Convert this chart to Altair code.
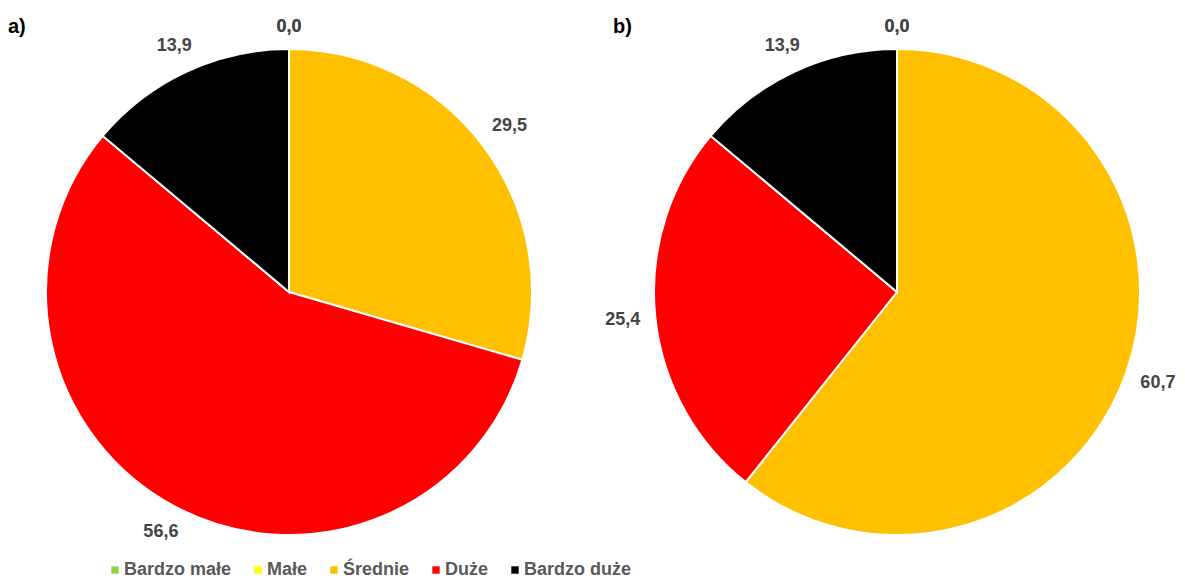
import altair as alt
import pandas as pd

# Size classes and their colours
categories = ["Bardzo małe", "Małe", "Średnie", "Duże", "Bardzo duże"]
colors = ["#92D050", "#FFFF00", "#FFC000", "#FF0000", "#000000"]

# Shares (%) for the two panels
values_a = [0.0, 0.0, 29.5, 56.6, 13.9]
values_b = [0.0, 0.0, 60.7, 25.4, 13.9]
panels = ["a)", "b)"]

rows = []
for panel, vals in zip(panels, [values_a, values_b]):
    for i, (cat, v) in enumerate(zip(categories, vals)):
        rows.append({
            "panel": panel,
            "kat": cat,
            "idx": i,
            "v": v,
            "label": f"{v:.1f}".replace(".", ","),
        })
df = pd.DataFrame(rows)

FONT = "Liberation Sans"
PIE_R = 243
CY = 292
theta_scale = alt.Scale(domain=[0, 100])


def pie(panel, cx):
    base = alt.Chart(df).transform_filter(alt.datum.panel == panel)
    arcs = base.mark_arc(radius=PIE_R, stroke="white", strokeWidth=2).encode(
        theta=alt.Theta("v:Q", stack=True, scale=theta_scale),
        order=alt.Order("idx:Q"),
        color=alt.Color(
            "kat:N",
            scale=alt.Scale(domain=categories, range=colors),
            legend=alt.Legend(
                title=None,
                orient="none",
                direction="horizontal",
                legendX=106,
                legendY=561,
                symbolType="square",
                symbolSize=55,
                symbolStrokeWidth=0,
                labelFont=FONT,
                labelFontSize=18,
                labelFontWeight="bold",
                labelColor="#595959",
                labelOffset=0,
                columnPadding=17,
            ),
        ),
        x=alt.value(cx),
        y=alt.value(CY),
    )
    # labels sit just outside the rim at each slice's middle; the offset grows
    # with the text box extent along that direction
    labels = (
        base.transform_window(
            cum="sum(v)", sort=[alt.SortField("idx")], frame=[None, 0]
        )
        .transform_calculate(midv="datum.cum - datum.v / 2")
        .transform_calculate(mid="datum.midv / 100 * 2 * PI")
        .transform_calculate(
            lr=f"{PIE_R + 15} + 17 * abs(sin(datum.mid)) + 7 * abs(cos(datum.mid))"
        )
        .mark_text(font=FONT, fontSize=18, fontWeight="bold", color="#454545")
        .encode(
            theta=alt.Theta("midv:Q", stack=None, scale=theta_scale),
            radius=alt.Radius("lr:Q", scale=None),
            text="label:N",
            x=alt.value(cx),
            y=alt.value(CY),
        )
    )
    return arcs + labels


def panel_title(text, px):
    return (
        alt.Chart(pd.DataFrame({"t": [text]}))
        .mark_text(font=FONT, fontSize=20, fontWeight="bold", color="#000000", align="left")
        .encode(text="t:N", x=alt.value(px), y=alt.value(27))
    )


chart = (
    alt.layer(
        pie("a)", 289),
        pie("b)", 897),
        panel_title("a)", 8),
        panel_title("b)", 613),
    )
    .properties(width=1185, height=580, padding=0, autosize="none")
    .configure_view(stroke=None)
)

chart.save("out.html", embed_options={"renderer": "svg", "actions": False})
